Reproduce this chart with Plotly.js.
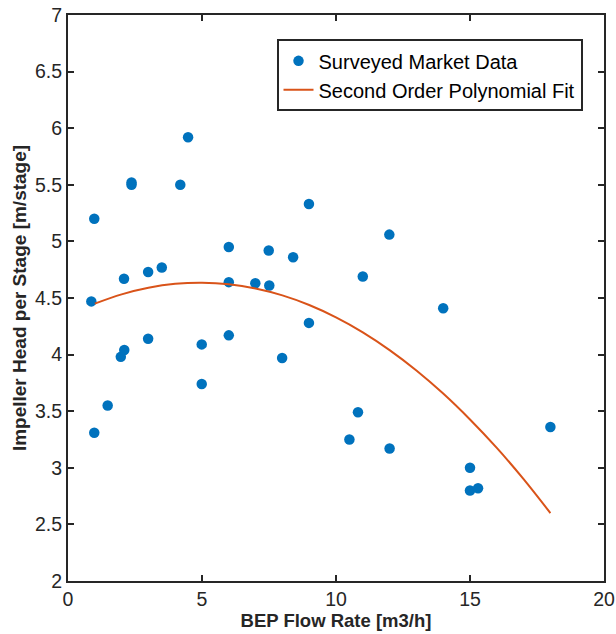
<!DOCTYPE html>
<html>
<head>
<meta charset="utf-8">
<script src="https://cdn.plot.ly/plotly-3.0.1.min.js"></script>
<style>
html,body{margin:0;padding:0;background:#fff;}
#chart{width:616px;height:634px;}
</style>
</head>
<body>
<div id="chart"></div>
<script>
// Surveyed market data
const flowRate = [0.87, 0.98, 0.98, 1.48, 1.97, 2.10, 2.09, 2.37, 2.37, 2.99, 2.99, 3.50, 4.19, 4.48,
  4.99, 4.99, 6.0, 6.0, 6.0, 6.99, 7.49, 7.51, 7.99, 8.40, 8.99, 8.99, 10.5, 10.82, 11.0, 11.99,
  12.0, 14.0, 15.0, 15.0, 15.3, 18.0];
const headPerStage = [4.47, 5.20, 3.31, 3.55, 3.98, 4.04, 4.67, 5.52, 5.50, 4.73, 4.14, 4.77, 5.50, 5.92,
  4.09, 3.74, 4.95, 4.64, 4.17, 4.63, 4.92, 4.61, 3.97, 4.86, 5.33, 4.28, 3.25, 3.49, 4.69, 5.06,
  3.17, 4.41, 3.00, 2.80, 2.82, 3.36];

// Second order polynomial fit curve
const fitX = [1, 2, 3, 4, 5, 6, 7, 8, 9, 10, 11, 12, 13, 14, 15, 16, 17, 18];
const fitY = [4.45, 4.532, 4.590, 4.625, 4.635, 4.622, 4.584, 4.523, 4.438, 4.329, 4.197, 4.040,
  3.860, 3.656, 3.427, 3.176, 2.900, 2.600];

const xTicks = [0, 5, 10, 15, 20];
const yTicks = [2, 2.5, 3, 3.5, 4, 4.5, 5, 5.5, 6, 6.5, 7];
const yTickText = ['2', '2.5', '3', '3.5', '4', '4.5', '5', '5.5', '6', '6.5', '7'];

const ink = '#262626';
const fontFam = '"Liberation Sans", Arial, Helvetica, sans-serif';

const traces = [
  {
    x: flowRate, y: headPerStage, type: 'scatter', mode: 'markers',
    name: 'Surveyed Market Data',
    marker: {color: '#0072BD', size: 10.5}
  },
  {
    x: fitX, y: fitY, type: 'scatter', mode: 'lines',
    name: 'Second Order Polynomial Fit',
    line: {color: '#D95319', width: 2, shape: 'spline'}
  }
];

const axisCommon = {
  showgrid: false, zeroline: false, showline: true, linecolor: ink, linewidth: 2,
  mirror: 'allticks', ticks: 'inside', ticklen: 6, tickwidth: 2, tickcolor: ink,
  tickfont: {family: fontFam, size: 19.5, color: ink}
};

const layout = {
  width: 616, height: 634,
  margin: {l: 68, r: 12, t: 15, b: 53},
  paper_bgcolor: '#fff', plot_bgcolor: '#fff',
  font: {family: fontFam, color: ink},
  xaxis: Object.assign({}, axisCommon, {
    range: [0, 20], tickvals: xTicks, ticktext: xTicks.map(String),
    title: {text: '<b>BEP Flow Rate [m3/h]</b>', font: {family: fontFam, size: 18.5, color: ink}, standoff: 2}
  }),
  yaxis: Object.assign({}, axisCommon, {
    range: [2, 7], tickvals: yTicks, ticktext: yTickText,
    title: {text: '<b>Impeller Head per Stage [m/stage]</b>', font: {family: fontFam, size: 19, color: ink}, standoff: 3}
  }),
  legend: {
    x: 0.389, y: 0.957, xanchor: 'left', yanchor: 'top',
    bgcolor: '#fff', bordercolor: ink, borderwidth: 2,
    font: {family: fontFam, size: 20, color: '#000'},
    tracegroupgap: 0, itemwidth: 30
  },
  showlegend: true
};

Plotly.newPlot('chart', traces, layout, {displayModeBar: false, staticPlot: true});
</script>
</body>
</html>
